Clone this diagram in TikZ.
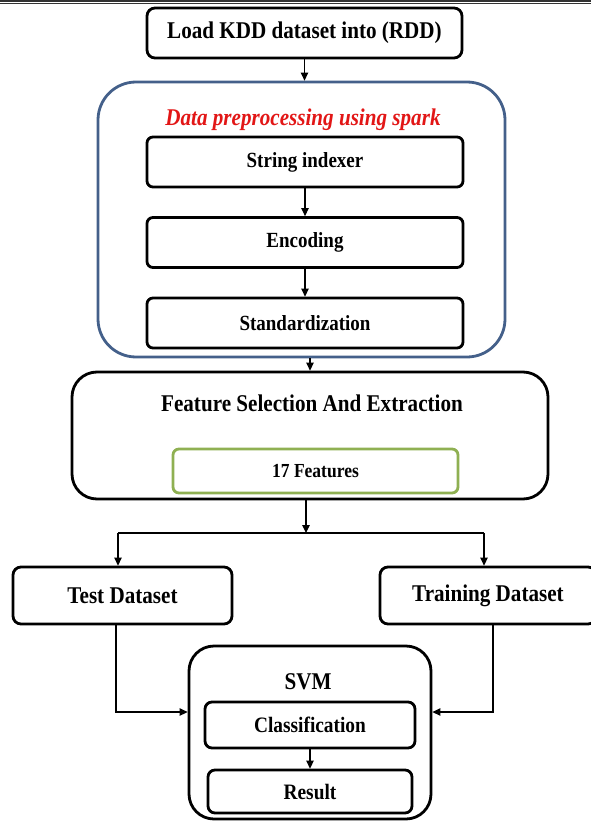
\documentclass[tikz,border=0pt]{standalone}
\usepackage{fontspec}
\setmainfont{Liberation Serif}[FakeStretch=0.88]
\usetikzlibrary{arrows.meta,positioning}
\definecolor{boxblue}{RGB}{68,96,138}
\definecolor{boxgreen}{RGB}{143,176,82}
\definecolor{titlered}{RGB}{226,22,22}

\begin{document}
\begin{tikzpicture}[x=1pt,y=-1pt,>={Triangle[length=8pt,width=7.5pt]},line width=1.2pt,node distance=80.5pt,
    main node/.style={draw,line width=2.8pt,rounded corners=8pt,inner sep=0pt,font=\fontsize{24}{27}\selectfont\bfseries},
    inner node/.style={main node,rounded corners=6pt,minimum width=316pt,minimum height=50pt,font=\fontsize{21.6}{25}\selectfont\bfseries},
    group node/.style={draw,line width=2.8pt,rounded corners=25pt,inner sep=0pt},
    label node/.style={inner sep=0pt,font=\fontsize{24}{27}\selectfont\bfseries}]
    \useasboundingbox (0,0) rectangle (591,821);
    \draw[line width=2pt,black!80] (0,0.9) -- (591,0.9);
    \draw[line width=1.2pt,black!80] (0,3.9) -- (591,3.9);

    \node[main node,minimum width=315pt,minimum height=50pt] (load) at (304.5,33) {Load KDD dataset into (RDD)};

    % preprocessing group
    \node[group node,draw=boxblue,rounded corners=38pt,minimum width=407pt,minimum height=275pt] (spark) at (301.5,219.5) {};
    \node[label node,text=titlered,font=\fontsize{24}{27}\selectfont\bfseries\itshape] (sparktitle) at (303,120) {Data preprocessing using spark};
    \node[inner node] (idx) at (305,162) {String indexer};
    \node[inner node] (enc) [below of=idx] {Encoding};
    \node[inner node] (std) [below of=enc] {Standardization};

    % features
    \node[group node,minimum width=476pt,minimum height=127pt] (feat) at (310,435.5) {};
    \node[label node] (feattitle) at (312,403) {Feature Selection And Extraction};
    \node[main node,draw=boxgreen,rounded corners=6pt,minimum width=285pt,minimum height=44pt,font=\fontsize{19.9}{23}\selectfont\bfseries] (f17) at (315.5,471) {17 Features};

    \node[main node,minimum width=219pt,minimum height=57pt] (test) at (122.5,595.5) {Test Dataset};
    \node[main node,minimum width=216pt,minimum height=57pt] (train) at (488,595.5) {Training Dataset};

    % svm group
    \node[group node,minimum width=242pt,minimum height=173pt] (svm) at (310,732.5) {};
    \node[label node] (svmtitle) at (308,682) {SVM};
    \node[main node,rounded corners=7pt,minimum width=210pt,minimum height=46pt,font=\fontsize{22}{25}\selectfont\bfseries] (cls) at (310,725) {Classification};
    \node[main node,rounded corners=7pt,minimum width=204pt,minimum height=43pt,font=\fontsize{22}{25}\selectfont\bfseries] (res) at (310,791.5) {Result};

    \coordinate (split) at (306,533);
    \coordinate (lsplit) at (118,533);
    \coordinate (rsplit) at (484,533);

    \path[->]
        (load.south) edge (load.south |- spark.north)
        (idx) edge (enc)
        (enc) edge (std)
        (spark.south -| feat) edge (feat.north)
        (feat.south -| split) edge (split)
        (lsplit) edge (lsplit |- test.north)
        (rsplit) edge (rsplit |- train.north)
        (cls) edge (res)
        ;
    \draw (lsplit) -- (rsplit);
    \draw[->] ([xshift=-6.5pt]test.south) |- ([yshift=20.5pt]svm.west);
    \draw[->] ([xshift=5pt]train.south) |- ([yshift=20.5pt]svm.east);
\end{tikzpicture}
\end{document}
